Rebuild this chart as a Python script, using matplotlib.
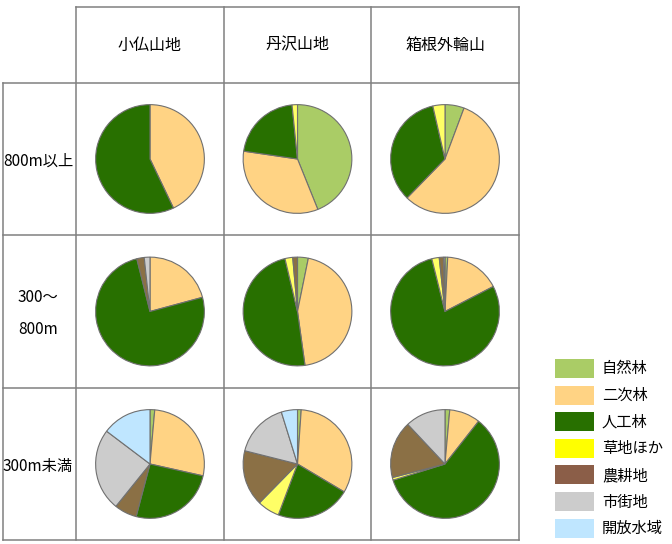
import matplotlib.pyplot as plt
from matplotlib.patches import Rectangle

plt.rcParams['font.family'] = ['Noto Sans CJK JP', 'DejaVu Sans']

# 地域（列）と標高帯（行）
regions = ['小仏山地', '丹沢山地', '箱根外輪山']
zones = ['800m以上', '300～\n800m', '300m未満']
landuse = ['自然林', '二次林', '人工林', '草地ほか', '農耕地', '市街地', '開放水域']

# 土地利用の割合 (%)  行=標高帯, 列=地域
share_800_up = [
    [0, 42.9, 57.1, 0, 0, 0, 0],
    [43.9, 33.4, 21.1, 1.6, 0, 0, 0],
    [5.7, 56.6, 34.1, 3.6, 0, 0, 0],
]
share_300_800 = [
    [0, 20.8, 75.3, 0, 2.2, 1.7, 0],
    [3.2, 44.6, 48.5, 2.3, 1.4, 0, 0],
    [0.8, 16.6, 78.7, 2.2, 1.3, 0.4, 0],
]
share_300_down = [
    [1.4, 27.1, 25.6, 0, 6.7, 24.5, 14.7],
    [1.1, 32.5, 22.2, 6.6, 16.6, 16.3, 4.8],
    [1.4, 9.2, 59.6, 0.8, 17.0, 12.0, 0],
]
shares = [share_800_up, share_300_800, share_300_down]

pie_colors = ['#aacc66', '#ffd384', '#287000', '#ffff66', '#8b7045', '#cccccc', '#bfe6ff']
legend_colors = ['#aacc66', '#ffd384', '#287000', '#ffff00', '#8b5e48', '#cccccc', '#bfe6ff']

W, H = 672, 544
fig = plt.figure(figsize=(W / 100, H / 100), dpi=100)

# 表の枠（ピクセル座標）
bg = fig.add_axes([0, 0, 1, 1])
bg.set_xlim(0, W)
bg.set_ylim(H, 0)
bg.axis('off')

col_x = [76, 224, 371, 519]
row_y = [83, 235, 388, 540]
line_kw = dict(color='#808080', lw=1.1)

bg.plot([col_x[0], col_x[-1]], [7, 7], **line_kw)
for x in col_x:
    bg.plot([x, x], [7, row_y[-1]], **line_kw)
bg.plot([3, 3], [row_y[0], row_y[-1]], **line_kw)
for y in row_y:
    bg.plot([3, col_x[-1]], [y, y], **line_kw)

for j, name in enumerate(regions):
    bg.text((col_x[j] + col_x[j + 1]) / 2, 45, name, ha='center', va='center', fontsize=11.5)

for i, name in enumerate(zones):
    yc = (row_y[i] + row_y[i + 1]) / 2
    bg.text(38, yc + 2, name, ha='center', va='center', fontsize=11, linespacing=2.1)

# 円グラフ
size = 112
for i in range(3):
    for j in range(3):
        cx = (col_x[j] + col_x[j + 1]) / 2
        cy = (row_y[i] + row_y[i + 1]) / 2
        ax = fig.add_axes([(cx - size / 2) / W, 1 - (cy + size / 2) / H, size / W, size / H])
        vals = [v for v in shares[i][j] if v > 0]
        cols = [c for v, c in zip(shares[i][j], pie_colors) if v > 0]
        ax.pie(vals, colors=cols, startangle=90, counterclock=False,
               wedgeprops=dict(edgecolor='#707070', linewidth=0.8))
        ax.set_xlim(-1.03, 1.03)
        ax.set_ylim(-1.03, 1.03)
        ax.set_aspect('equal')

# 凡例
for k, (name, c) in enumerate(zip(landuse, legend_colors)):
    top = 359 + k * 26.6
    bg.add_patch(Rectangle((555, top), 39, 19, facecolor=c, edgecolor='none'))
    bg.text(602, top + 10, name, ha='left', va='center', fontsize=11)

fig.savefig('out.png', dpi=100)
